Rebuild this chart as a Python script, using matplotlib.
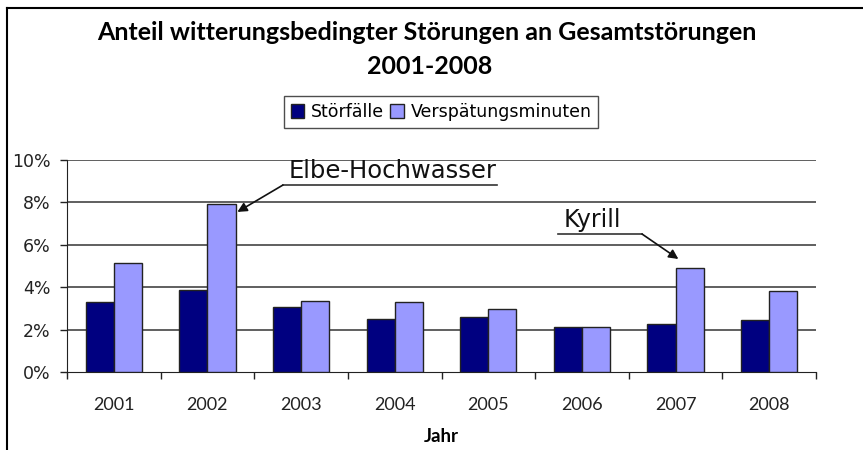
import matplotlib
matplotlib.use("Agg")
import matplotlib.pyplot as plt
from matplotlib.patches import Patch
from matplotlib.lines import Line2D
import numpy as np

years = ["2001", "2002", "2003", "2004", "2005", "2006", "2007", "2008"]
stoerfaelle = [3.32, 3.87, 3.08, 2.48, 2.61, 2.14, 2.28, 2.44]
verspaetung = [5.13, 7.91, 3.36, 3.30, 2.97, 2.14, 4.92, 3.81]
yticks = [0, 2, 4, 6, 8, 10]
ytick_labels = ["0%", "2%", "4%", "6%", "8%", "10%"]
series_names = ["Störfälle", "Verspätungsminuten"]
colors = ["#000080", "#9999FF"]

W, H = 863, 450
fig = plt.figure(figsize=(W / 100, H / 100), dpi=100)

# plot area in pixels: x 67..816, y 160..372
ax = fig.add_axes([67 / W, 1 - 372 / H, 749 / W, 212 / H])

x = np.arange(len(years))
bw = 0.30
ax.bar(x - bw / 2, stoerfaelle, bw, color=colors[0], edgecolor="#222222", linewidth=1.0, zorder=3)
ax.bar(x + bw / 2, verspaetung, bw, color=colors[1], edgecolor="#222222", linewidth=1.0, zorder=3)

ax.set_xlim(-0.5, len(years) - 0.5)
ax.set_ylim(0, 10)
ax.set_yticks(yticks)
ax.set_yticklabels(ytick_labels, fontsize=12.5, family="DejaVu Sans", color="#222222")
ax.set_xticks(x)
ax.set_xticklabels(years, fontsize=13, family=["Lato", "DejaVu Sans"], color="#222222")
ax.set_xticks(np.arange(-0.5, len(years)), minor=True)
ax.tick_params(axis="x", which="major", length=0, pad=18)
ax.tick_params(axis="x", which="minor", length=5, width=1, color="#222222", direction="out")
ax.tick_params(axis="y", length=5, width=1, color="#222222", pad=7)

for v in yticks[1:]:
    ax.axhline(v, color="#444444", linewidth=1.2, zorder=1)

for s in ["top", "right"]:
    ax.spines[s].set_visible(False)
ax.spines["left"].set_color("#222222")
ax.spines["bottom"].set_color("#222222")

ax.set_xlabel("Jahr", fontsize=13.5, fontweight="bold", family=["Lato", "DejaVu Sans"], labelpad=11)

# annotations
def px2ax(px, py):
    return ((px - 67) / 749, (372 - py) / 212)

tr = ax.transAxes
# Elbe-Hochwasser
ex0, ey0 = px2ax(283, 185)
ex1, _ = px2ax(497, 185)
ax.plot([ex0, ex1], [ey0, ey0], color="#333333", lw=1.2, transform=tr, clip_on=False, zorder=5)
ax.text((ex0 + ex1) / 2 + 0.003, ey0 + 0.008, "Elbe-Hochwasser", transform=tr, ha="center", va="bottom",
        fontsize=17.5, family="DejaVu Sans", color="#111111", zorder=5)
ax.annotate("", xy=(1.32, 7.55), xycoords="data", xytext=(ex0, ey0), textcoords=tr,
            arrowprops=dict(arrowstyle="-|>", color="#111111", lw=1.2, mutation_scale=14,
                            shrinkA=0, shrinkB=0), zorder=5)
# Kyrill
kx0, ky0 = px2ax(558, 234)
kx1, _ = px2ax(642, 234)
ax.plot([kx0, kx1], [ky0, ky0], color="#333333", lw=1.2, transform=tr, clip_on=False, zorder=5)
ax.text(kx0 + 0.008, ky0 + 0.008, "Kyrill", transform=tr, ha="left", va="bottom",
        fontsize=17, family="DejaVu Sans", color="#111111", zorder=5)
ax.annotate("", xy=(6.03, 5.33), xycoords="data", xytext=(kx1, ky0), textcoords=tr,
            arrowprops=dict(arrowstyle="-|>", color="#111111", lw=1.2, mutation_scale=14,
                            shrinkA=0, shrinkB=0), zorder=5)

# title
fig.text(427 / W, 1 - 33 / H, "Anteil witterungsbedingter Störungen an Gesamtstörungen",
         ha="center", va="center", fontsize=18, fontweight="bold", family=["Lato", "DejaVu Sans"])
fig.text(430 / W, 1 - 66 / H, "2001-2008",
         ha="center", va="center", fontsize=18, fontweight="bold", family=["Lato", "DejaVu Sans"])

# legend
handles = [Patch(facecolor=colors[0], edgecolor="#222222", linewidth=1.0),
           Patch(facecolor=colors[1], edgecolor="#222222", linewidth=1.0)]
leg = fig.legend(handles, series_names, loc="center", bbox_to_anchor=(441 / W, 1 - 112 / H),
                 ncol=2, frameon=True, fancybox=False,
                 prop={"family": "DejaVu Sans", "size": 12.5},
                 handlelength=0.8, handleheight=0.8, handletextpad=0.4, columnspacing=0.3,
                 borderpad=0.4, borderaxespad=0)
leg.get_frame().set_edgecolor("#222222")
leg.get_frame().set_linewidth(1.0)

# outer frame (top and left only)
fig.add_artist(Line2D([7 / W, 1.0], [1 - 8 / H, 1 - 8 / H], color="black", lw=1.5, transform=fig.transFigure))
fig.add_artist(Line2D([7 / W, 7 / W], [1 - 8 / H, 0], color="black", lw=1.5, transform=fig.transFigure))

fig.savefig("out.png", dpi=100)
